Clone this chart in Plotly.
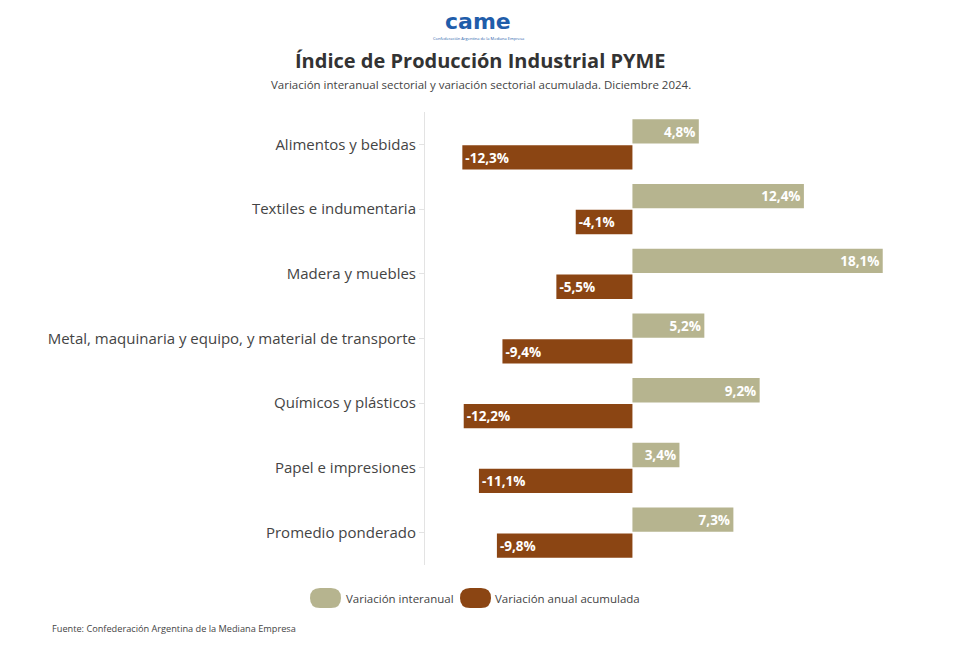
import plotly.graph_objects as go

categorias = [
    "Alimentos y bebidas",
    "Textiles e indumentaria",
    "Madera y muebles",
    "Metal, maquinaria y equipo, y material de transporte",
    "Químicos y plásticos",
    "Papel e impresiones",
    "Promedio ponderado",
]
interanual = [4.8, 12.4, 18.1, 5.2, 9.2, 3.4, 7.3]
acumulada = [-12.3, -4.1, -5.5, -9.4, -12.2, -11.1, -9.8]

TAN = "#B6B48F"
BROWN = "#8B4513"
FONT = "Open Sans"

def fmt(v):
    return f"{v:.1f}".replace(".", ",") + "%"

# the page body adds ~8px of offset, so work in page pixels minus that
OFF = 8
W, H = 956, 649
L, R, T, B = 425 - OFF, 909 - OFF, 112 - OFF, 565 - OFF

def px(x):
    return (x - OFF - L) / (R - L)

def py(y):
    return (B - (y - OFF)) / (B - T)

fig = go.Figure()
fig.add_trace(go.Bar(
    y=categorias, x=interanual, orientation="h", name="Variación interanual",
    marker=dict(color=TAN, line=dict(width=0)),
    text=[fmt(v) for v in interanual], textposition="inside", insidetextanchor="end",
    textfont=dict(color="white", size=14, family=FONT, weight="bold"),
))
fig.add_trace(go.Bar(
    y=categorias, x=acumulada, orientation="h", name="Variación anual acumulada",
    marker=dict(color=BROWN, line=dict(width=0)),
    text=[fmt(v) for v in acumulada], textposition="inside", insidetextanchor="end",
    textfont=dict(color="white", size=14, family=FONT, weight="bold"),
))

fig.update_layout(
    width=W, height=H,
    margin=dict(l=L, r=W - R, t=T, b=H - B),
    paper_bgcolor="white", plot_bgcolor="white",
    barmode="group", bargap=0.2, bargroupgap=0.06,
    showlegend=False,
    font=dict(family=FONT, color="#444"),
    uniformtext=dict(mode="show", minsize=10),
)
fig.update_xaxes(range=[-15, 20], visible=False)
fig.update_yaxes(
    autorange="reversed", showline=True, linecolor="#e3e3e3", linewidth=1,
    ticks="outside", ticklen=5, tickcolor="#e3e3e3", showgrid=False,
    tickfont=dict(size=15, color="#444", family=FONT),
)

def note(x, y, text, size, color="#444", anchor="center", family=FONT):
    fig.add_annotation(x=px(x), y=py(y), xref="paper", yref="paper", showarrow=False,
                       xanchor=anchor, yanchor="middle", text=text,
                       font=dict(size=size, color=color, family=family))

# logo and titles
note(478, 21, "<b>came</b>", 22, color="#1F5DAA", family="DejaVu Sans")
note(478, 38, "Confederación Argentina de la Mediana Empresa", 4, color="#1F5DAA")
note(480, 60, "<b>Índice de Producción Industrial PYME</b>", 20, color="#333")
note(481, 85, "Variación interanual sectorial y variación sectorial acumulada. Diciembre 2024.", 11.5)

# legend drawn by hand
def pill(x0, x1, y0, y1, color):
    r = (y1 - y0) / 2
    a0, a1 = px(x0), px(x1)
    b0, b1 = py(y1), py(y0)
    rx = r / (R - L)
    ry = r / (B - T)
    path = (f"M {a0+rx},{b0} L {a1-rx},{b0} Q {a1},{b0} {a1},{b0+ry} "
            f"L {a1},{b1-ry} Q {a1},{b1} {a1-rx},{b1} L {a0+rx},{b1} "
            f"Q {a0},{b1} {a0},{b1-ry} L {a0},{b0+ry} Q {a0},{b0} {a0+rx},{b0} Z")
    fig.add_shape(type="path", path=path, xref="paper", yref="paper",
                  fillcolor=color, line=dict(width=0))

pill(310, 341, 588, 608, TAN)
pill(460, 491, 588, 608, BROWN)
note(344, 598, "Variación interanual", 11.5, anchor="left")
note(493, 598, "Variación anual acumulada", 11.5, anchor="left")

note(50, 628, "Fuente: Confederación Argentina de la Mediana Empresa", 9.2, anchor="left")

fig.write_html("out.html")
